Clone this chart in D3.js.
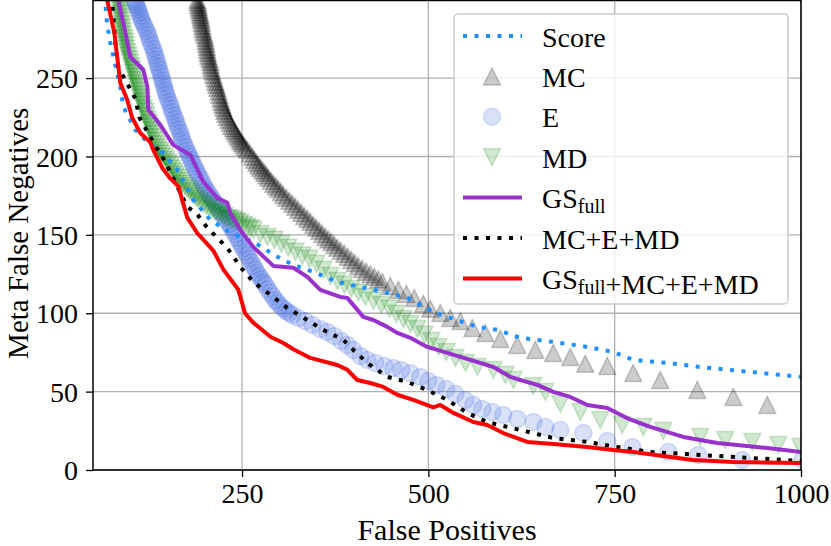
<!DOCTYPE html>
<html><head><meta charset="utf-8">
<script src="https://cdn.jsdelivr.net/npm/d3@7"></script>
<style>
body{margin:0;background:#fff}
svg{display:block}
</style>
</head><body>
<svg id="chart" width="831" height="546"></svg>
<script>
// ---------------- data ----------------
const xTicks = [250, 500, 750, 1000];
const yTicks = [0, 50, 100, 150, 200, 250];
const xLabel = "False Positives";
const yLabel = "Meta False Negatives";
const legendLabels = ["Score", "MC", "E", "MD", "GS{full}", "MC+E+MD", "GS{full}+MC+E+MD"];

const scoreData = [[64,310],[66.5,298],[68.8,285],[73.2,272.5],[79.9,258.5],[86.6,244.5],[90.7,231.7],[106.8,217],[126.9,207.4],[140.3,204],[163.1,191.5],[184.6,172.3],[207.4,159.6],[234.2,151.3],[265.2,145.5],[297.4,136],[318.8,130.9],[345.7,126.4],[377.9,120],[408.7,116.8],[445,113],[471.8,109.8],[506.7,100.8],[533.5,96.4],[565.7,91.3],[592.6,89.4],[623.4,84.3],[667.6,81.7],[713.3,78.5],[748.2,75.3],[775,70.2],[820.7,68.3],[865,65.7],[932,62.6],[1000,59.4]];

const mcData = [[188.5,305],[189.9,300],[190.6,298.4],[191.3,296.8],[192,295.2],[192.6,293.6],[193.3,292],[194,290.4],[194.6,288.8],[195.3,287.2],[196,285.3],[196.7,283.4],[197.4,281.5],[198,279.6],[199.3,277.7],[200.7,275.7],[201.3,273.8],[202,271.9],[202.7,270],[203.4,268.1],[204,266.2],[204.7,264.3],[206,262.3],[207.4,260.4],[208,258.5],[208.7,256.6],[210,254.3],[211.4,252.1],[212.7,249.9],[214.1,247.7],[215.4,245.7],[216.8,243.8],[218.2,241.6],[219.5,239.4],[220.8,237.1],[222.2,234.9],[223.5,233],[224.8,231.1],[226.2,229.1],[227.5,227.2],[229.5,225.3],[231.5,223.4],[233.6,221.5],[235.6,219.6],[237.6,218],[239.6,216.4],[241.6,214.8],[243.6,213.2],[245.6,211.6],[247.6,210],[249.7,208.7],[251.7,207.4],[254.3,205.8],[257,204.3],[260.4,202],[263.8,199.8],[266.5,197.9],[269.1,196],[271.8,194.4],[274.5,192.8],[277.2,191.2],[279.9,189.6],[282.6,188],[285.3,186.4],[288.6,184.5],[292,182.6],[295.3,181],[298.6,179.4],[302,177.4],[305.3,175.5],[309.3,173.6],[313.4,171.7],[317.4,169.8],[321.5,167.9],[325.5,166],[329.5,164],[333.5,162.1],[337.6,160.2],[341.6,158.3],[345.6,156.4],[349.7,154.5],[353.7,152.6],[357.7,150.6],[361.7,148.7],[365.7,147.1],[369.8,145.5],[373.8,143.6],[377.8,141.7],[382.5,139.8],[387.2,137.9],[391.9,136],[396.6,134],[401.3,132.1],[406,130.2],[411.3,128.3],[416.7,126.4],[422.1,124.8],[427.5,123.2],[432.8,121.6],[438.2,120],[448.9,117.4],[459.7,114.9],[470.4,112.3],[481.1,109.8],[493.2,106],[502.6,102.8],[516,100.2],[529.4,97],[542.9,95.1],[559,90.6],[576.4,87.4],[596.5,83.6],[619.3,79.8],[643.5,76.6],[667.6,74.7],[690.4,72.1],[710.5,67.7],[740,66.4],[774.9,61.9],[811.2,57.4],[860.8,51.1],[909.1,46.6],[954.7,41.5]];

const eData = [[103,305],[105.4,300],[106.7,298.4],[108.1,296.8],[109.4,295.2],[110.8,293.6],[112.1,291.7],[113.5,289.8],[114.8,287.9],[116.2,286],[118.2,284],[120.2,282.1],[122.2,279.9],[124.2,277.7],[125.5,275.4],[126.9,273.2],[128.9,271],[130.9,268.7],[132.2,266.5],[133.6,264.3],[134.9,262],[136.3,259.8],[137.6,257.6],[139,255.4],[140.3,253.1],[141.6,250.9],[143,248.7],[144.3,246.5],[145.6,244.2],[147,242],[148.3,239.8],[149.7,237.5],[151.7,235.3],[153.7,233.1],[155,230.8],[156.4,228.5],[158.4,226.3],[160.4,224.1],[161.7,221.8],[163.1,219.6],[165.1,217.4],[167.1,215.2],[168.4,212.9],[169.8,210.6],[171.8,208.4],[173.8,206.2],[175.8,203.9],[177.9,201.7],[179.9,199.8],[181.9,197.9],[183.9,195.6],[185.9,193.4],[187.9,191.5],[190,189.6],[192.6,187.3],[195.3,185.1],[197.3,182.8],[199.3,180.6],[202,178.7],[204.7,176.8],[207.4,174.9],[210.1,173],[212.7,171],[215.4,169.1],[218.1,166.9],[220.8,164.7],[224.1,162.8],[227.5,160.8],[230.2,158.9],[232.9,157],[235.6,154.8],[238.3,152.6],[240.9,150.4],[243.6,148.1],[246.3,145.9],[249,143.6],[251.7,141.4],[254.4,139.2],[257,136.9],[259.7,134.7],[262.4,132.5],[265.1,130.2],[267.8,128],[270.5,125.7],[273.1,123.8],[275.8,121.9],[278.5,120],[281.2,118.1],[284.5,115.5],[287.9,113],[291.2,110.8],[294.6,108.5],[298,106.6],[301.3,104.7],[305.3,103.1],[309.4,101.5],[313.4,100.2],[317.4,98.9],[325.5,97],[334.9,95.1],[344.3,92.6],[355,90],[364.4,88.1],[373.8,85.5],[383.2,82.3],[391.2,79.8],[399.3,76.6],[408.7,72.8],[418.1,70.2],[428.8,68.3],[440.9,66.4],[453,65.1],[463.7,63.8],[475.8,61.9],[489.2,59.4],[499.9,56.8],[510.7,54.3],[524.1,51.7],[536.2,48.5],[549.6,44.7],[560.3,41.5],[572.4,38.9],[585.8,37],[600.6,35.1],[619.4,32.6],[640.8,30.6],[656.9,27.4],[677.1,25.5],[707.9,23.6],[740.1,18.5],[773.7,14.7],[822,11.5],[862.2,9.6],[921.2,6.4],[1002,6.4]];

const mdData = [[82.5,305],[83.9,300],[84.6,297.8],[85.3,295.5],[86,293.3],[86.6,291.1],[87.3,288.8],[88,286.6],[88.6,284.4],[89.3,282.1],[90,279.9],[90.7,277.7],[92,275.4],[93.3,273.2],[94,271],[94.7,268.7],[96,266.5],[97.4,264.3],[98.7,262],[100.1,259.8],[101.4,257.6],[102.7,255.3],[104,253.1],[105.4,250.9],[106.7,248.7],[108.1,246.4],[109.4,244.2],[110.8,241.9],[112.1,239.7],[113.5,237.5],[114.8,235.3],[116.2,233],[118.2,230.8],[120.2,228.5],[121.5,226],[122.9,223.4],[124.9,221.2],[126.9,218.9],[128.3,216.7],[129.6,214.5],[131.6,212.2],[133.6,210],[135.6,207.8],[137.6,205.5],[140.3,203.6],[143,201.7],[145.7,199.8],[148.4,197.9],[151,196],[153.7,194],[156.4,192.1],[159.1,190.2],[161.8,188.3],[164.5,186.4],[167.1,184.5],[169.8,182.6],[173.2,181],[176.5,179.4],[179.9,177.8],[183.2,176.2],[186.6,174.6],[190,173],[194,171.4],[198,169.8],[202,168.5],[206.1,167.2],[210.1,166],[214.1,164.7],[218.1,163.8],[222.2,162.8],[226.2,161.8],[230.2,160.8],[234.2,160.2],[238.3,159.6],[243,158.7],[247.6,157.7],[252.3,156.4],[257,155.1],[261,154.2],[265.1,153.2],[274.5,150.6],[283.9,148.7],[293.3,146.8],[302.7,144.3],[312.1,141.7],[321.5,139.2],[330.9,136.6],[340.3,134.7],[349.7,131.5],[359.1,127.7],[368.5,123.8],[377.9,120.6],[387.3,118.1],[396.7,115.5],[406.1,113],[415.5,110.4],[426.2,107.9],[436.9,105.3],[447.7,102.8],[457.1,99.6],[466.5,96.4],[475.9,93.2],[485.3,90],[494.7,86.2],[504.1,82.3],[513.5,78.5],[524.2,75.3],[536.3,71.5],[549.7,68.3],[565.8,65.7],[587.3,63.8],[603.4,60.6],[614.1,57.4],[640.9,53.6],[657,49.8],[677.2,42.1],[704,37],[730.7,31.9],[760.2,28.7],[788.4,27.4],[815.2,24.9],[864.9,21.1],[898.4,19.1],[934.7,17.9],[969.5,16],[999,14.7]];

const gsData = [[82,310],[83.9,300],[93.3,279],[100,263.6],[117.5,255.3],[122.9,244.5],[124.2,229.8],[140.3,220.2],[157.7,207.4],[180.6,201],[198,183.8],[216.8,173.6],[230.2,170.4],[234.2,164],[247.6,153.2],[265,142.3],[292,130.2],[318.8,129],[337.5,123.2],[355,114.9],[381.8,110.4],[391.2,109.8],[412.7,97.7],[426.1,95.7],[444.9,91.3],[458.3,87.4],[475.8,84.3],[498.6,78.5],[525.4,74.7],[556.3,70.2],[587.2,65.7],[610,59.4],[623.4,57.4],[646.2,54.3],[667.6,49.8],[690.5,46.6],[713.3,41.5],[740.1,39.6],[767,33],[797.8,27.5],[842.1,21.1],[887.7,17.2],[954.8,14],[1000,11.5]];

const comboData = [[74,310],[75.9,298],[79.9,272.5],[83.9,257],[98.7,244],[106.8,237],[112.1,225],[131,209],[147,196.6],[157.7,186],[176.5,168],[190,163],[203.4,154.5],[230.2,141.7],[247.6,129.6],[265,120],[288,111.7],[310.7,103.4],[337.5,95.7],[359,89.4],[386,83],[399.4,76.6],[418,68.3],[444.9,59.4],[471.7,56.2],[498.6,51],[525.4,44.7],[552.2,36.4],[579,30.6],[623.3,25.5],[667.6,20.4],[713,17.9],[753.2,14.7],[797.5,11.5],[864.6,9.6],[931.7,7.7],[1000,5.7]];

const allData = [[66,312],[69,300],[78.6,279],[86.6,247],[96,236],[102.3,225],[113.5,215],[126.9,209],[131,204],[142.6,193],[153.7,186],[164.5,181],[169.8,172],[176.5,161],[190,151],[194,149],[211.4,140],[224.8,128],[245,115],[254,100],[265,94],[288,85],[305.4,81],[318.8,77],[341.6,71.5],[377.8,67],[391,64],[404.6,57.4],[422,55.5],[439.5,53],[458.3,48],[479.8,44.7],[506.6,40],[516,41.5],[533.5,36.4],[560.3,30.6],[579,28.7],[600.5,23.6],[632.7,17.9],[667.6,16.6],[713,14.7],[748,12.8],[775,11.5],[855,6.4],[909,5.1],[1000,4.5]];

// ---------------- chart ----------------
const FONT = '"Liberation Serif", "DejaVu Serif", serif';
const L = 93, R = 801, T = 0.5, B = 470;
const svg = d3.select("#chart");
const x = d3.scaleLinear().domain([50, 1000]).range([L, R]);
const y = d3.scaleLinear().domain([0, 299.5]).range([B, T]);

svg.append("defs").append("clipPath").attr("id", "clip")
  .append("rect").attr("x", L).attr("y", T).attr("width", R - L).attr("height", B - T);

// grid
const grid = svg.append("g");
grid.selectAll(".gx").data(xTicks).join("line")
  .attr("x1", d => x(d)).attr("x2", d => x(d)).attr("y1", T).attr("y2", B)
  .attr("stroke", "#b0b0b0").attr("stroke-width", 1.3);
grid.selectAll(".gy").data(yTicks).join("line")
  .attr("y1", d => y(d)).attr("y2", d => y(d)).attr("x1", L).attr("x2", R)
  .attr("stroke", "#b0b0b0").attr("stroke-width", 1.3);

const plot = svg.append("g").attr("clip-path", "url(#clip)");

const triUp = h => `M0,${-h}L${h},${h}L${-h},${h}Z`;
const triDown = h => `M0,${h}L${h},${-h}L${-h},${-h}Z`;
const mk = 8.5;

const markerSeries = [
  {data: mcData, kind: "up", color: "0,0,0", alpha: 0.2},
  {data: eData, kind: "circle", color: "65,105,225", alpha: 0.2},
  {data: mdData, kind: "down", color: "0,128,0", alpha: 0.18}
];

function drawMarker(g, kind, color, alpha) {
  const fill = `rgba(${color},${alpha})`;
  if (kind === "circle") {
    g.append("circle").attr("r", mk).attr("fill", fill).attr("stroke", fill).attr("stroke-width", 1.5);
  } else {
    g.append("path").attr("d", kind === "up" ? triUp(mk) : triDown(mk))
      .attr("fill", fill).attr("stroke", fill).attr("stroke-width", 1.5).attr("stroke-linejoin", "miter");
  }
}

markerSeries.forEach(s => {
  const g = plot.append("g");
  s.data.forEach(d => {
    const m = g.append("g").attr("transform", `translate(${x(d[0])},${y(d[1])})`);
    drawMarker(m, s.kind, s.color, s.alpha);
  });
});

const line = d3.line().x(d => x(d[0])).y(d => y(d[1]));
const lineSeries = [
  {data: scoreData, color: "#1E90FF", dash: "4,7.5"},
  {data: gsData, color: "#9932CC", dash: null},
  {data: comboData, color: "#000000", dash: "4,7.5"},
  {data: allData, color: "#FF0000", dash: null}
];
lineSeries.forEach(s => {
  plot.append("path").datum(s.data).attr("d", line)
    .attr("fill", "none").attr("stroke", s.color).attr("stroke-width", 4)
    .attr("stroke-dasharray", s.dash).attr("stroke-linejoin", "round")
    .attr("stroke-linecap", s.dash ? "butt" : "square");
});

// frame
svg.append("rect").attr("x", L).attr("y", T).attr("width", R - L).attr("height", B - T)
  .attr("fill", "none").attr("stroke", "#000").attr("stroke-width", 1.5);

// axes
const xAxis = d3.axisBottom(x).tickValues(xTicks).tickSize(7).tickPadding(6).tickFormat(d3.format("d"));
const yAxis = d3.axisLeft(y).tickValues(yTicks).tickSize(7).tickPadding(8).tickFormat(d3.format("d"));
const gx = svg.append("g").attr("transform", `translate(0,${B})`).call(xAxis);
const gy = svg.append("g").attr("transform", `translate(${L},0)`).call(yAxis);
[gx, gy].forEach(g => {
  g.attr("font-family", FONT);
  g.select(".domain").remove();
  g.selectAll(".tick line").attr("stroke", "#000").attr("stroke-width", 1.3);
  g.selectAll(".tick text").attr("font-family", FONT).attr("font-size", 28).attr("fill", "#000");
});
gx.selectAll(".tick text").attr("dy", "0.73em");
gy.selectAll(".tick text").attr("dy", "0.34em");

svg.append("text").attr("x", (L + R) / 2).attr("y", 540).attr("text-anchor", "middle")
  .attr("font-family", FONT).attr("font-size", 30).attr("fill", "#000").text(xLabel);
svg.append("text").attr("transform", `translate(28,${(B + T) / 2 - 2}) rotate(-90)`)
  .attr("text-anchor", "middle").attr("font-family", FONT).attr("font-size", 29).attr("fill", "#000").text(yLabel);

// legend
const lg = svg.append("g");
lg.append("rect").attr("x", 454).attr("y", 14).attr("width", 334).attr("height", 290)
  .attr("rx", 4).attr("fill", "rgba(255,255,255,0.8)").attr("stroke", "#cccccc").attr("stroke-width", 1.5);
const handles = [
  {type: "line", color: "#1E90FF", dash: "4,7.5"},
  {type: "marker", kind: "up", color: "0,0,0", alpha: 0.2},
  {type: "marker", kind: "circle", color: "65,105,225", alpha: 0.2},
  {type: "marker", kind: "down", color: "0,128,0", alpha: 0.18},
  {type: "line", color: "#9932CC", dash: null},
  {type: "line", color: "#000000", dash: "4,7.5"},
  {type: "line", color: "#FF0000", dash: null}
];
legendLabels.forEach((lab, i) => {
  const cy = 36 + i * 40.4;
  const h = handles[i];
  if (h.type === "line") {
    lg.append("line").attr("x1", 463).attr("x2", 522).attr("y1", cy).attr("y2", cy)
      .attr("stroke", h.color).attr("stroke-width", 4).attr("stroke-dasharray", h.dash);
  } else {
    const m = lg.append("g").attr("transform", `translate(492,${cy})`);
    drawMarker(m, h.kind, h.color, h.alpha);
  }
  const t = lg.append("text").attr("x", 542).attr("y", cy + 10.5)
    .attr("font-family", FONT).attr("font-size", 28).attr("fill", "#000");
  const parts = lab.split(/(\{full\})/);
  parts.forEach(p => {
    if (p === "{full}") {
      t.append("tspan").attr("font-size", 20).attr("dy", 5).text("full");
      t.append("tspan").attr("dy", -5).text("");
    } else if (p.length) {
      t.append("tspan").text(p);
    }
  });
});
</script>
</body></html>
